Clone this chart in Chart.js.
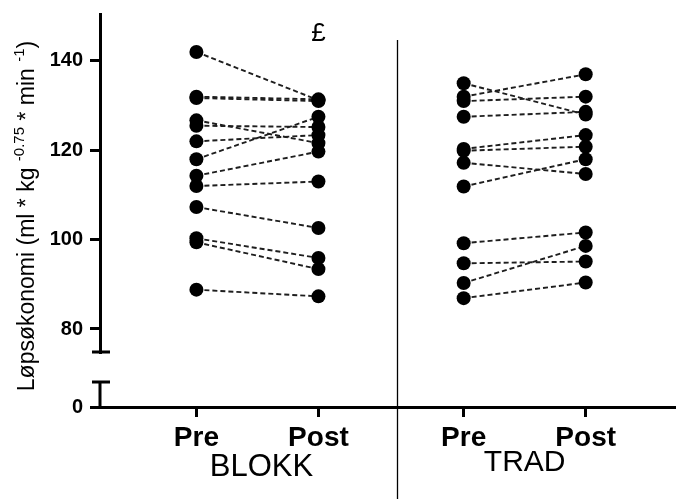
<!DOCTYPE html>
<html>
<head>
<meta charset="utf-8">
<script src="https://cdn.jsdelivr.net/npm/chart.js@4.4.1/dist/chart.umd.min.js"></script>
<style>
  html, body { margin: 0; padding: 0; background: #fff; }
  #wrap { width: 676px; height: 499px; position: relative; }
</style>
</head>
<body>
<div id="wrap"><canvas id="chart"></canvas></div>
<script>
/* ---------- DATA ---------- */
const xLabels = ["Pre", "Post", "Pre", "Post"];
const groupLabels = ["BLOKK", "TRAD"];
const xPos = [1, 2, 3.19, 4.19];

const blokkPre  = [142, 132, 131.7, 126.7, 125.5, 122, 118, 114.3, 112, 107.3, 100.3, 99.4, 88.8];
const blokkPost = [131.2, 131.4, 131, 121.6, 125.2, 123.4, 127.5, 119.7, 113, 102.6, 95.9, 93.4, 87.3];

const tradPre  = [135, 132, 131, 127.5, 120.3, 119.9, 117.2, 111.9, 99.2, 94.7, 90.3, 86.9];
const tradPost = [128, 137, 132, 128.6, 123.4, 120.8, 114.7, 118, 101.6, 95.1, 98.6, 90.4];

const yTicks = [80, 100, 120, 140];
const yLowTicks = [0];

/* ---------- STYLE ---------- */
const FONT = '"Liberation Sans", Arial, sans-serif';
const INK = "#000";
const Y_TICK_FONT = { family: FONT, size: 20, weight: "bold" };

Chart.defaults.font.family = FONT;
Chart.defaults.color = INK;

function pairDatasets(pre, post, x0, x1) {
  return pre.map((v, i) => ({
    xAxisID: "x",
    yAxisID: "y",
    data: [{ x: x0, y: v }, { x: x1, y: post[i] }],
    showLine: true,
    borderColor: "#1e1e1e",
    borderWidth: 1.9,
    borderDash: [5, 3],
    pointRadius: 7,
    pointBackgroundColor: INK,
    pointBorderWidth: 0,
    pointHoverRadius: 7
  }));
}

const datasets = [
  ...pairDatasets(blokkPre, blokkPost, xPos[0], xPos[1]),
  ...pairDatasets(tradPre, tradPost, xPos[2], xPos[3])
];

// broken axis, divider, group labels, title
const decor = {
  id: "decor",
  afterDraw(chart) {
    const { ctx } = chart;
    const x = chart.scales.x;
    const yUp = chart.scales.y;
    const yLow = chart.scales.y0;
    const ax = chart.chartArea.left;

    ctx.save();
    ctx.strokeStyle = INK;
    ctx.lineWidth = 3;
    ctx.lineCap = "butt";

    // break caps + lower axis stub
    const capTop = yUp.bottom;
    const capLow = capTop + 30;
    ctx.beginPath();
    ctx.moveTo(ax - 8, capTop); ctx.lineTo(ax + 10, capTop);
    ctx.moveTo(ax - 8, capLow); ctx.lineTo(ax + 10, capLow);
    ctx.moveTo(ax, capLow); ctx.lineTo(ax, yLow.bottom);
    ctx.stroke();

    // divider between groups
    const dx = Math.round(x.getPixelForValue(2.645)) + 0.5;
    ctx.lineWidth = 1.3;
    ctx.beginPath();
    ctx.moveTo(dx, 40); ctx.lineTo(dx, chart.height);
    ctx.stroke();

    // group labels
    ctx.fillStyle = INK;
    ctx.textAlign = "center";
    ctx.textBaseline = "middle";
    ctx.font = "31px " + FONT;
    const g1 = (x.getPixelForValue(xPos[0]) + x.getPixelForValue(xPos[1])) / 2;
    const g2 = (x.getPixelForValue(xPos[2]) + x.getPixelForValue(xPos[3])) / 2;
    ctx.fillText(groupLabels[0], g1 + 4, 467);
    ctx.font = "30px " + FONT;
    ctx.fillText(groupLabels[1], g2, 463);

    // significance mark
    ctx.font = "26px " + FONT;
    ctx.fillText("£", x.getPixelForValue(xPos[1]), 34);

    // y title with superscripts
    const parts = [
      ["Løpsøkonomi (ml * kg ", 23, 0],
      ["-0.75", 15, -10],
      [" * min ", 23, 0],
      ["-1", 15, -10],
      [")", 23, 0]
    ];
    let total = 0;
    parts.forEach(p => { ctx.font = p[1] + "px " + FONT; total += ctx.measureText(p[0]).width; });
    ctx.translate(34, 216);
    ctx.rotate(-Math.PI / 2);
    ctx.textAlign = "left";
    ctx.textBaseline = "alphabetic";
    let cx = -total / 2;
    parts.forEach(p => {
      ctx.font = p[1] + "px " + FONT;
      ctx.fillText(p[0], cx, p[2]);
      cx += ctx.measureText(p[0]).width;
    });
    ctx.restore();
  }
};

const tickGrid = () => ({
  drawOnChartArea: false,
  drawTicks: true,
  tickLength: 10,
  tickWidth: 3,
  lineWidth: 3,
  color: INK
});

// fixed axis sizes, no label overhang padding
const fixWidth = s => { s.width = 100; s.paddingTop = 0; s.paddingBottom = 0; };
const fixHeight = s => { s.height = 92; s.paddingLeft = 0; s.paddingRight = 0; };

new Chart(document.getElementById("chart"), {
  type: "scatter",
  data: { datasets },
  options: {
    responsive: true,
    maintainAspectRatio: false,
    animation: false,
    layout: { autoPadding: false, padding: { top: 14, right: 0, bottom: 0, left: 0 } },
    plugins: {
      legend: { display: false },
      tooltip: { enabled: false }
    },
    scales: {
      x: {
        type: "linear",
        min: 0.21,
        max: 4.93,
        afterBuildTicks: s => { s.ticks = xPos.map(v => ({ value: v })); },
        afterFit: fixHeight,
        ticks: {
          autoSkip: false,
          maxRotation: 0,
          padding: 4,
          color: INK,
          font: { family: FONT, size: 28, weight: "bold" },
          callback: (v, i) => xLabels[i]
        },
        grid: tickGrid(),
        border: { display: true, color: INK, width: 3 }
      },
      y0: {
        type: "linear",
        axis: "y",
        position: "left",
        stack: "left",
        stackWeight: 55,
        min: 0,
        max: 12.3,
        afterBuildTicks: s => { s.ticks = yLowTicks.map(v => ({ value: v })); },
        afterFit: fixWidth,
        ticks: {
          padding: 7,
          color: INK,
          font: Y_TICK_FONT
        },
        grid: tickGrid(),
        border: { display: false }
      },
      y: {
        type: "linear",
        position: "left",
        stack: "left",
        stackWeight: 338,
        min: 74.85,
        max: 150.5,
        afterBuildTicks: s => { s.ticks = yTicks.map(v => ({ value: v })); },
        afterFit: fixWidth,
        ticks: {
          padding: 7,
          color: INK,
          font: Y_TICK_FONT
        },
        grid: tickGrid(),
        border: { display: true, color: INK, width: 3 }
      }
    }
  },
  plugins: [decor]
});
</script>
</body>
</html>
